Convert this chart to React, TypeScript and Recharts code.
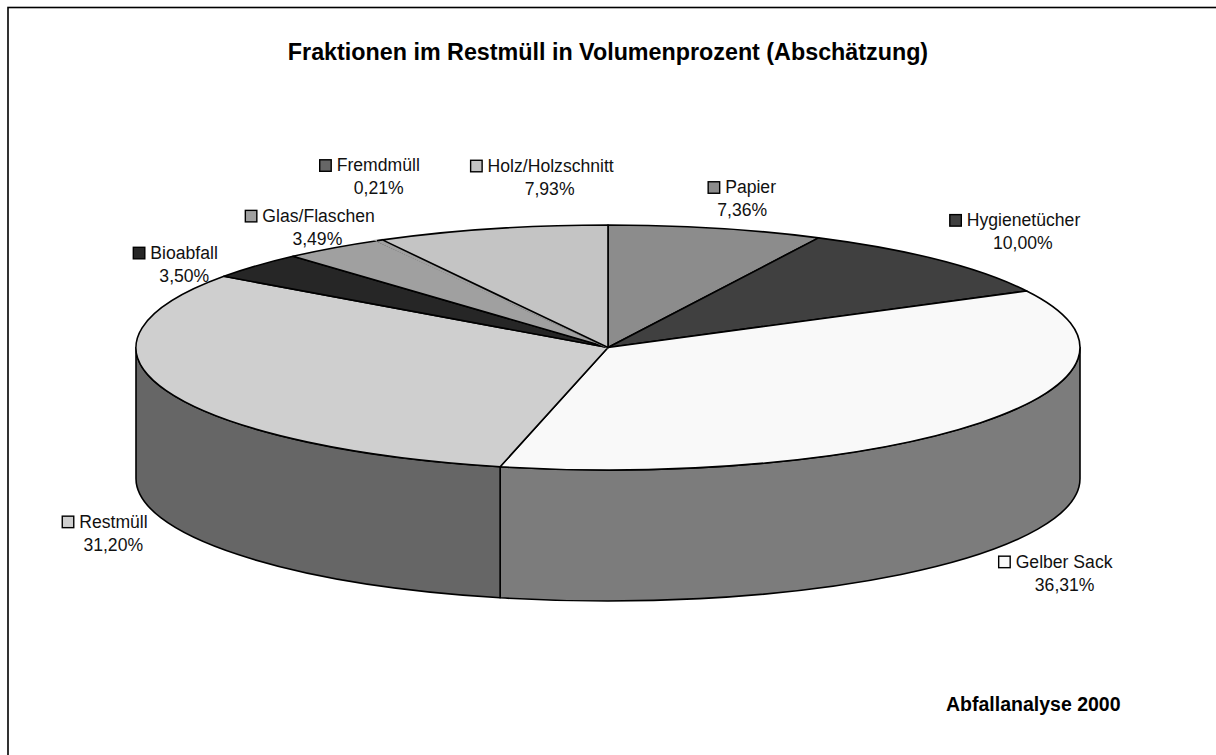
import { Pie, PieChart } from "recharts";

const names = ["Papier", "Hygienetücher", "Gelber Sack", "Restmüll", "Bioabfall", "Glas/Flaschen", "Fremdmüll", "Holz/Holzschnitt"];
const shares = [7.36, 10.0, 36.31, 31.2, 3.5, 3.49, 0.21, 7.93];
const topColors = ["#8c8c8c", "#404040", "#f9f9f9", "#cfcfcf", "#262626", "#a0a0a0", "#666666", "#c4c4c4"];
const wallColors = ["#6e6e6e", "#303030", "#7c7c7c", "#666666", "#1c1c1c", "#777777", "#4c4c4c", "#929292"];

// label placement relative to the slice's rim point, picture-specific
const labelDx = [26, 84, 84, -53, -72, -16, -1, 58];
const labelDy = [-18, -17, 31, 23, 10, -9, -52, -40];
const keyLeft = [-34, -73, -66, -51, -51, -72, -59, -79];

const data = names.map((name, i) => ({ name, value: shares[i], index: i }));

const FONT = "'Liberation Sans', Arial, sans-serif";
const CX = 608;
const CY = 347.5;
const RX = 472;
const RY = 122.5;
const DEPTH = 131;
const LINE = 1.6;

const rad = (a: number) => (a * Math.PI) / 180;
const px = (a: number) => CX + RX * Math.cos(rad(a));
const py = (a: number) => CY - RY * Math.sin(rad(a));

function TopSlice(props: any) {
  const { startAngle, endAngle, index } = props;
  const large = startAngle - endAngle > 180 ? 1 : 0;
  const rim = `L${px(startAngle)},${py(startAngle)} A${RX},${RY} 0 ${large} 1 ${px(endAngle)},${py(endAngle)}`;
  // the reference shows no separate wedge for a sliver this thin, it merges into its neighbour
  if (startAngle - endAngle < 1) {
    const neighbour = topColors[index - 1];
    return (
      <g>
        <path d={`M${CX},${CY} ${rim} Z`} fill={neighbour} stroke={neighbour} strokeWidth={LINE + 0.6} />
        <path d={`M${px(startAngle)},${py(startAngle)} A${RX},${RY} 0 0 1 ${px(endAngle)},${py(endAngle)}`} fill="none" stroke="#000" strokeWidth={LINE} />
      </g>
    );
  }
  return <path d={`M${CX},${CY} ${rim} Z`} fill={topColors[index]} stroke="#000" strokeWidth={LINE} strokeLinejoin="round" />;
}

// only the part of the rim facing the viewer gets a wall
function WallSlice(props: any) {
  const { startAngle, endAngle, index } = props;
  const s = Math.min(startAngle, 0);
  const e = Math.max(endAngle, -180);
  if (s <= e) return null;
  const large = s - e > 180 ? 1 : 0;
  const d =
    `M${px(s)},${py(s)} A${RX},${RY} 0 ${large} 1 ${px(e)},${py(e)} ` +
    `L${px(e)},${py(e) + DEPTH} A${RX},${RY} 0 ${large} 0 ${px(s)},${py(s) + DEPTH} Z`;
  return <path d={d} fill={wallColors[index]} stroke="#000" strokeWidth={LINE} strokeLinejoin="round" />;
}

function SliceLabel(props: any) {
  const { midAngle, index, value, name } = props;
  const lower = Math.sin(rad(midAngle)) < 0;
  const x = px(midAngle) + labelDx[index];
  const y = py(midAngle) + (lower ? DEPTH : 0) + labelDy[index];
  const left = x + keyLeft[index];
  return (
    <g fontFamily={FONT} fontSize={17.6} fill="#111">
      <rect x={left} y={y - 28.5} width={11.5} height={11.5} fill={topColors[index]} stroke="#000" strokeWidth={1.4} />
      <text x={left + 17} y={y - 17}>{name}</text>
      <text x={x} y={y + 6} textAnchor="middle">{Number(value).toFixed(2).replace(".", ",")}%</text>
    </g>
  );
}

export default function App() {
  return (
    <div style={{ position: "absolute", left: 0, top: 0, width: 1216, height: 755, background: "#fff" }}>
      <PieChart width={1216} height={755} margin={{ top: 0, right: 0, bottom: 0, left: 0 }}>
        <rect x={8} y={7.5} width={1300} height={900} fill="none" stroke="#000" strokeWidth={1.6} />
        <text x={608} y={59.5} textAnchor="middle" fontFamily={FONT} fontWeight="bold" fontSize={23.3} fill="#000">
          Fraktionen im Restmüll in Volumenprozent (Abschätzung)
        </text>
        <text x={946} y={711} fontFamily={FONT} fontWeight="bold" fontSize={19.5} fill="#000">
          Abfallanalyse 2000
        </text>
        <Pie
          data={data}
          dataKey="value"
          nameKey="name"
          cx={CX}
          cy={CY}
          outerRadius={RX}
          startAngle={90}
          endAngle={-270}
          shape={WallSlice}
          isAnimationActive={false}
        />
        <Pie
          data={data}
          dataKey="value"
          nameKey="name"
          cx={CX}
          cy={CY}
          outerRadius={RX}
          startAngle={90}
          endAngle={-270}
          shape={TopSlice}
          label={SliceLabel}
          labelLine={false}
          isAnimationActive={false}
        />
      </PieChart>
    </div>
  );
}
